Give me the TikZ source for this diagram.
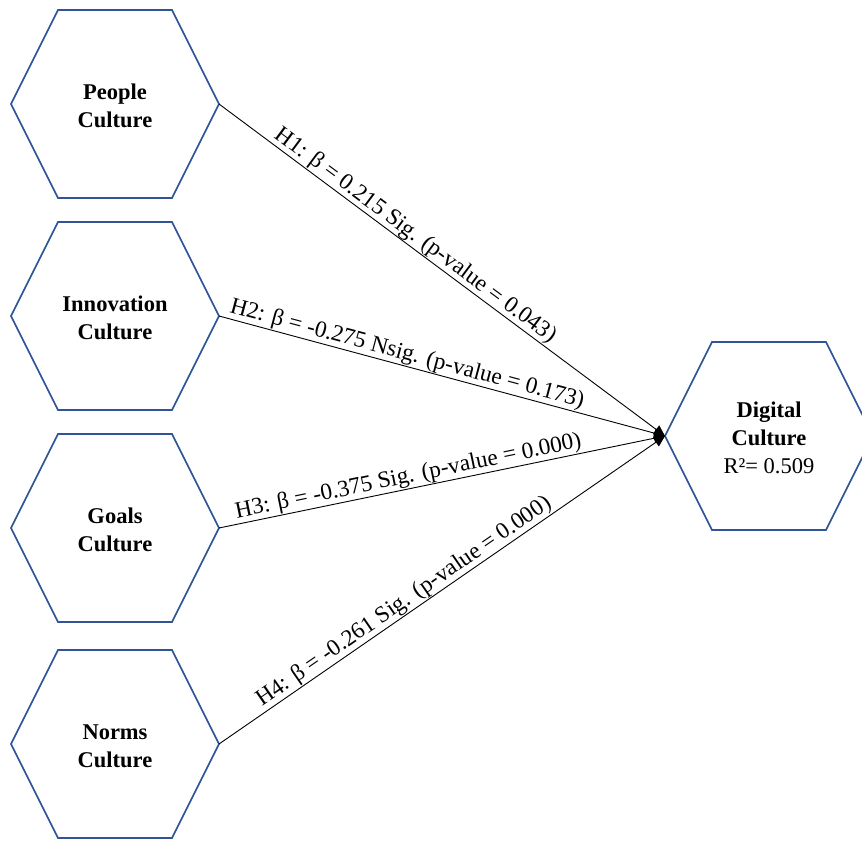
\documentclass[tikz,border=0pt]{standalone}
\usepackage{fontspec}
\setmainfont{Liberation Serif}
\usetikzlibrary{calc,arrows.meta}
\definecolor{hexblue}{HTML}{2F5597}
\newcommand\hexagonat[1]{\draw[hexline] ($(#1)+(-104,0)$) -- ($(#1)+(-57,-94)$) -- ($(#1)+(57,-94)$) -- ($(#1)+(104,0)$) -- ($(#1)+(57,94)$) -- ($(#1)+(-57,94)$) -- cycle;}
\begin{document}
\begin{tikzpicture}[x=1pt,y=-1pt,
  hexline/.style={draw=hexblue,line width=1.6pt,line join=miter},
  hextext/.style={font=\fontsize{22.5}{28}\selectfont\bfseries,align=center,inner sep=0pt},
  conn/.style={black,line width=0.9pt,-{Triangle[length=11pt,width=10pt]}},
  edgelbl/.style={font=\fontsize{23.3}{27}\selectfont,sloped,above,inner sep=0.5pt}]
\useasboundingbox (0,0) rectangle (862,841);
\clip (0,0) rectangle (862,841);
\node[hextext] (p) at (115,106) {People\\Culture};
\node[hextext] (i) at (115,318) {Innovation\\Culture};
\node[hextext] (g) at (115,530) {Goals\\Culture};
\node[hextext] (n) at (115,746) {Norms\\Culture};
\node[hextext] (d) at (769,438) {Digital\\Culture\\{\mdseries R²= 0.509}};
\coordinate (pc) at (115,104);
\coordinate (ic) at (115,316);
\coordinate (gc) at (115,528);
\coordinate (nc) at (115,744);
\coordinate (dc) at (769,436);
\hexagonat{pc}
\hexagonat{ic}
\hexagonat{gc}
\hexagonat{nc}
\hexagonat{dc}
\coordinate (pR) at ($(pc)+(104,0)$);
\coordinate (iR) at ($(ic)+(104,0)$);
\coordinate (gR) at ($(gc)+(104,0)$);
\coordinate (nR) at ($(nc)+(104,0)$);
\coordinate (dL) at ($(dc)+(-104,0)$);
\draw[conn] (pR) -- node[edgelbl,pos=0.425] {H1: β = 0.215 Sig. (p-value = 0.043)} (dL);
\draw[conn] (iR) -- node[edgelbl,pos=0.415] {H2: β = -0.275 Nsig. (p-value = 0.173)} (dL);
\draw[conn] (gR) -- node[edgelbl,pos=0.43] {H3: β = -0.375 Sig. (p-value = 0.000)} (dL);
\draw[conn] (nR) -- node[edgelbl,pos=0.43] {H4: β = -0.261 Sig. (p-value = 0.000)} (dL);
\end{tikzpicture}
\end{document}
